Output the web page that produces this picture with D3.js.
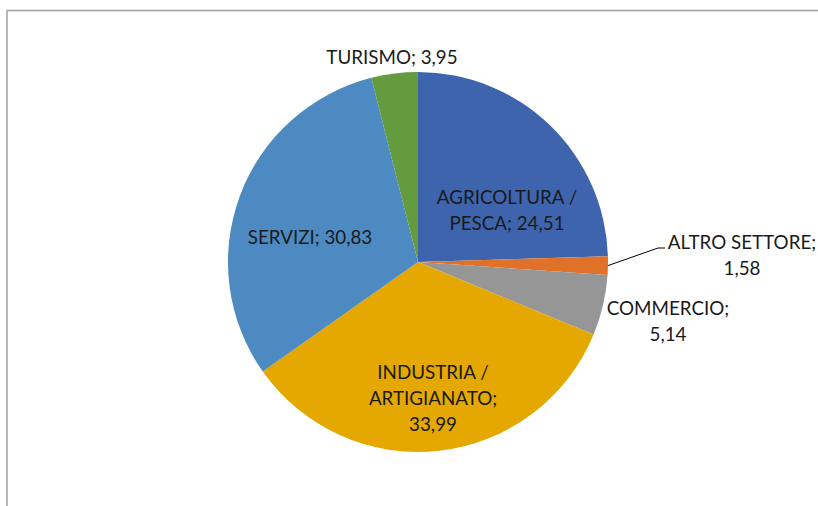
<!DOCTYPE html>
<html><head><meta charset="utf-8">
<script src="https://cdn.jsdelivr.net/npm/d3@7"></script>
<style>body{margin:0;background:#fff}svg{display:block}text{font-family:Lato,"Open Sans",sans-serif;font-size:18.8px;fill:#1a1a1a}</style>
</head><body><svg id="c" width="818" height="506"></svg>
<script>
const categories = ["AGRICOLTURA / PESCA","ALTRO SETTORE","COMMERCIO","INDUSTRIA / ARTIGIANATO","SERVIZI","TURISMO"];
const values = [24.51, 1.58, 5.14, 33.99, 30.83, 3.95];
const colors = ["#3E64AE","#E07129","#969696","#E5A800","#4C8AC1","#649B3F"];
const labelLines = [["AGRICOLTURA /","PESCA; 24,51"],["ALTRO SETTORE;","1,58"],["COMMERCIO;","5,14"],["INDUSTRIA /","ARTIGIANATO;","33,99"],["SERVIZI; 30,83"],["TURISMO; 3,95"]];
const labelPos = [[507,204],[742,249],[668,315],[433,379],[310,244],[392,64]];

const svg = d3.select("#c");
svg.append("path").attr("d","M7,506V10.5H818").attr("fill","none").attr("stroke","#A0A0A0").attr("stroke-width",1.5);
const cx=418, cy=262, r=190;
const data = categories.map((c,i)=>({c,v:values[i],i}));
const pie = d3.pie().value(d=>d.v).sort(null);
const arc = d3.arc().innerRadius(0).outerRadius(r);
const g = svg.append("g").attr("transform",`translate(${cx},${cy})`);
const arcs = pie(data);
g.selectAll("path").data(arcs).join("path").attr("d",arc).attr("fill",d=>colors[d.data.i]);
const a1 = arcs[1]; const mid=(a1.startAngle+a1.endAngle)/2;
const px = cx + Math.sin(mid)*r, py = cy - Math.cos(mid)*r;
svg.append("polyline").attr("points",`${px},${py} 658,248 665,248`).attr("fill","none").attr("stroke","#000").attr("stroke-width",1);
labelLines.forEach((lines,i)=>{
  const t = svg.append("text").attr("text-anchor","middle").attr("x",labelPos[i][0]).attr("y",labelPos[i][1]);
  lines.forEach((l,j)=>t.append("tspan").attr("x",labelPos[i][0]).attr("dy",j?26:0).text(l));
});
</script></body></html>
